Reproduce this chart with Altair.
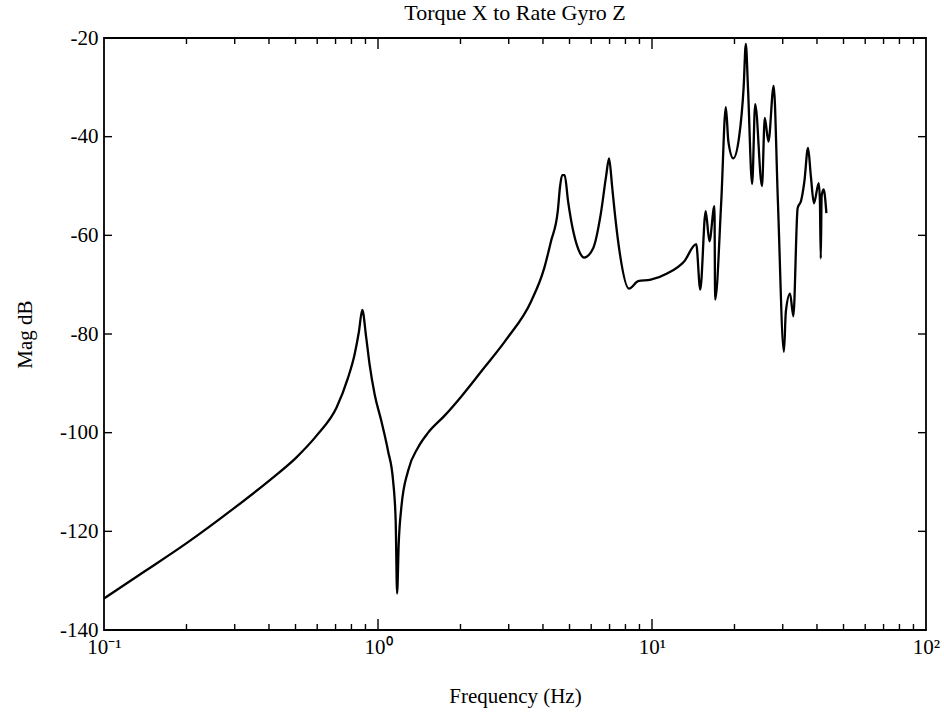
import altair as alt
import pandas as pd

# ---- data ----
FREQ = [0.1, 0.14, 0.199, 0.3, 0.401, 0.504, 0.603, 0.706, 0.777, 0.821, 0.852,
        0.876, 0.906, 0.932, 0.972, 1.028, 1.088, 1.135, 1.16, 1.174, 1.19,
        1.217, 1.288, 1.40, 1.524, 1.754, 2.018, 2.388, 2.95, 3.62, 4.04,
        4.28, 4.53, 4.62, 4.7, 4.8, 4.94, 5.19, 5.4, 5.65, 6.1, 6.5, 6.8,
        6.97, 7.15, 7.3, 7.6, 8.24, 8.9, 9.9, 11.4, 13.1, 14.5, 15.0, 15.7,
        16.2, 16.9, 17.0, 17.9, 18.6, 19.0, 19.8, 20.8, 21.6, 22.0, 22.4,
        23.2, 23.8, 25.2, 25.8, 26.6, 27.8, 28.8, 30.3, 30.8, 31.9, 32.8,
        34.0, 35.0, 36.0, 37.1, 38.0, 39.0, 40.6, 41.0, 41.3, 41.6, 42.3, 43.3]
MAG = [-133.6, -128.2, -122.5, -115.2, -109.7, -105.0, -100.3, -94.9, -88.9, -84.2, -79.5,
       -75.1, -80.8, -86.2, -92.2, -97.6, -103.7, -109.7, -117.8, -132.6, -122.5,
       -115.1, -107.7, -103.0, -100.0, -96.5, -92.6, -87.5, -81.0, -73.4, -66.7,
       -61.2, -55.1, -50.0, -47.8, -47.8, -53.1, -59.8, -63.0, -64.5, -62.6, -55.7, -48.0,
       -44.4, -50.0, -55.0, -63.0, -70.8, -69.3, -69.0, -67.7, -65.3, -61.8, -71.0, -55.1,
       -61.2, -54.1, -73.0, -53.0, -34.0, -41.0, -44.4, -40.0, -30.0, -21.2, -30.0,
       -49.6, -33.4, -50.0, -36.2, -41.0, -29.7, -53.0, -83.6, -75.4, -71.8, -76.4,
       -54.5, -53.0, -49.0, -42.3, -48.0, -53.5, -49.4, -53.0, -64.7, -52.0, -50.7, -55.5]

X_DECADES = [0.1, 1, 10, 100]
X_LABELS = ["10⁻¹", "10⁰", "10¹", "10²"]
X_MINOR = [m * d for d in (0.1, 1, 10) for m in range(2, 10)]
Y_TICKS = [-140, -120, -100, -80, -60, -40, -20]

TITLE = "Torque X to Rate Gyro Z"
X_TITLE = "Frequency (Hz)"
Y_TITLE = "Mag dB"

# ---- layout / style ----
W, H = 822, 592
FONT = "Liberation Serif"

curve = pd.DataFrame({"f": FREQ, "mag": MAG})
xscale = alt.Scale(type="log", domain=[X_DECADES[0], X_DECADES[-1]], nice=False)
yscale = alt.Scale(domain=[Y_TICKS[0], Y_TICKS[-1]], nice=False, zero=False)

expr = "''"
for v, lab in reversed(list(zip(X_DECADES, X_LABELS))):
    expr = f"(abs(datum.value - {v}) < {v}*1e-6) ? '{lab}' : ({expr})"

line = alt.Chart(curve).mark_line(color="black", strokeWidth=2.3, interpolate="monotone").encode(
    x=alt.X("f:Q", scale=xscale,
            axis=alt.Axis(values=X_DECADES, labelExpr=expr, ticks=False, domain=False,
                          grid=False, title=X_TITLE, labelPadding=6, titlePadding=28,
                          labelFlush=False)),
    y=alt.Y("mag:Q", scale=yscale,
            axis=alt.Axis(values=Y_TICKS, labelExpr="'' + datum.value", ticks=False,
                          domain=False, grid=False, title=Y_TITLE, labelPadding=6,
                          titlePadding=24)),
)

minor_df = pd.DataFrame({"f": X_MINOR})
major_df = pd.DataFrame({"f": X_DECADES[1:-1]})
ytick_df = pd.DataFrame({"mag": Y_TICKS[1:-1]})

def xticks(df, y0, y1):
    return alt.Chart(df).mark_rule(color="black", strokeWidth=1.4).encode(
        x=alt.X("f:Q", scale=xscale), y=alt.value(y0), y2=alt.value(y1))

def yticks(x0, x1):
    return alt.Chart(ytick_df).mark_rule(color="black", strokeWidth=1.4).encode(
        y=alt.Y("mag:Q", scale=yscale), x=alt.value(x0), x2=alt.value(x1))

layers = [
    xticks(minor_df, H, H - 6), xticks(minor_df, 0, 6),
    xticks(major_df, H, H - 11), xticks(major_df, 0, 11),
    yticks(0, 8), yticks(W - 8, W),
    line,
]

chart = alt.layer(*layers).properties(
    width=W, height=H,
    background="white",
    title=alt.TitleParams(TITLE, font=FONT, fontSize=22, fontWeight="normal",
                          color="black", offset=2, anchor="middle"),
    autosize=alt.AutoSizeParams(type="none"),
    padding={"left": 104, "top": 38, "right": 944 - 104 - W, "bottom": 721 - 38 - H},
).configure_view(
    stroke="black", strokeWidth=1.8
).configure_axis(
    labelFont=FONT, labelFontSize=21, labelColor="black",
    titleFont=FONT, titleFontSize=21, titleColor="black", titleFontWeight="normal",
)

chart.save("out.html", embed_options={"renderer": "svg", "actions": False})
